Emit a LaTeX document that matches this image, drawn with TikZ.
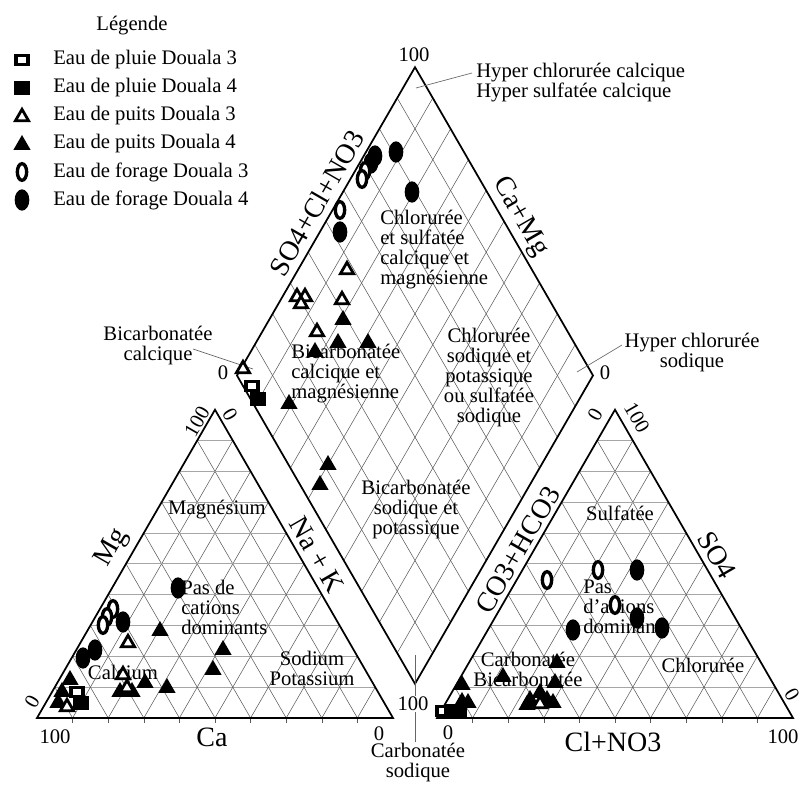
\documentclass[tikz,border=0pt]{standalone}
\usepackage{fontspec}
\setmainfont{Liberation Serif}
\usetikzlibrary{calc,shapes.geometric}
\tikzset{
 border/.style={draw=black, line width=1.3pt, line join=miter},
 hgrid/.style={draw=black!35, line width=0.55pt},
 dgrid/.style={draw=black!65, line width=0.4pt},
 lbl/.style={font=\fontsize{15.5}{15}\selectfont, inner sep=0pt},
 big/.style={font=\fontsize{21}{21}\selectfont, inner sep=0pt},
 leader/.style={draw=black!60, line width=0.5pt},
 mFS/.style={rectangle, fill=black, minimum width=11.5pt, minimum height=10pt, inner sep=0pt},
 mOS/.style={rectangle, draw=black, fill=white, line width=2.3pt, minimum width=9pt, minimum height=7pt, inner sep=0pt},
 mFT/.style={regular polygon, regular polygon sides=3, fill=black, minimum size=15pt, inner sep=0pt},
 mOT/.style={regular polygon, regular polygon sides=3, draw=black, fill=white, line width=2.1pt, minimum size=11.5pt, inner sep=0pt},
 mFE/.style={ellipse, fill=black, minimum width=11pt, minimum height=16pt, inner sep=0pt},
 mOE/.style={ellipse, draw=black, fill=white, line width=2.5pt, minimum width=7pt, minimum height=12.5pt, inner sep=0pt},
}
\begin{document}
\begin{tikzpicture}[x=0.75pt,y=-0.75pt]
\useasboundingbox (0,0) rectangle (801,791);
% corners
\coordinate (LA) at (37,718); \coordinate (LB) at (393,718); \coordinate (LC) at (215,409.7);
\coordinate (RA) at (437,718); \coordinate (RB) at (793,718); \coordinate (RC) at (615,409.7);
\coordinate (DL) at (237,375.5); \coordinate (DT) at (415,67.2); \coordinate (DR) at (593,375.5); \coordinate (DB) at (415,683.8);
% grids
\foreach \i in {1,...,9} {
  \draw[hgrid] ($(LA)!\i/10!(LC)$) -- ($(LB)!\i/10!(LC)$);
  \draw[dgrid] ($(LA)!\i/10!(LB)$) -- ($(LC)!\i/10!(LB)$);
  \draw[dgrid] ($(LB)!\i/10!(LA)$) -- ($(LC)!\i/10!(LA)$);
  \draw[dgrid] ($(LA)!\i/10!(LB)$) -- ++(0,5);
  \draw[hgrid] ($(RA)!\i/10!(RC)$) -- ($(RB)!\i/10!(RC)$);
  \draw[dgrid] ($(RA)!\i/10!(RB)$) -- ($(RC)!\i/10!(RB)$);
  \draw[dgrid] ($(RB)!\i/10!(RA)$) -- ($(RC)!\i/10!(RA)$);
  \draw[dgrid] ($(RA)!\i/10!(RB)$) -- ++(0,5);
  \draw[dgrid] ($(DL)!\i/10!(DB)$) -- ($(DT)!\i/10!(DR)$);
  \draw[dgrid] ($(DL)!\i/10!(DT)$) -- ($(DB)!\i/10!(DR)$);
}
\draw[border] (LA) -- (LB) -- (LC) -- cycle;
\draw[border] (RA) -- (RB) -- (RC) -- cycle;
\draw[border] (DL) -- (DT) -- (DR) -- (DB) -- cycle;

% leaders
\coordinate (q1a) at (416,88); \coordinate (q1b) at (472,73);
\coordinate (q2a) at (193,349); \coordinate (q2b) at (253,369);
\coordinate (q3a) at (577,372); \coordinate (q3b) at (622,345);
\coordinate (q4a) at (415,655); \coordinate (q4b) at (415,742);
\draw[leader] (q1a) -- (q1b);
\draw[leader] (q2a) -- (q2b);
\draw[leader] (q3a) -- (q3b);
\draw[leader] (q4a) -- (q4b);

% legend
\node[lbl] (leg) at (132,26) {Légende};
\node[mOS] (l1) at (22,60) {};  \node[lbl,anchor=west] (lt1) at (53,60) {Eau de pluie Douala 3};
\node[mFS] (l2) at (22,88) {};  \node[lbl,anchor=west] (lt2) at (53,88) {Eau de pluie Douala 4};
\node[mOT] (l3) at (22,117) {}; \node[lbl,anchor=west] (lt3) at (53,116) {Eau de puits Douala 3};
\node[mFT] (l4) at (22,145) {}; \node[lbl,anchor=west] (lt4) at (53,144) {Eau de puits Douala 4};
\node[mOE] (l5) at (22,172) {}; \node[lbl,anchor=west] (lt5) at (53,172) {Eau de forage Douala 3};
\node[mFE] (l6) at (22,200) {}; \node[lbl,anchor=west] (lt6) at (53,200) {Eau de forage Douala 4};

% diamond labels
\node[lbl] (n100t) at (414,55) {100};
\node[lbl,anchor=west,align=left] (hcc) at (476,83) {Hyper chlorurée calcique\\Hyper sulfatée calcique};
\node[big,rotate=60] (so4cl) at (317,203) {SO4+Cl+NO3};
\node[big,rotate=-60] (camg) at (520,217) {Ca+Mg};
\node[lbl,anchor=west,align=left] (z1) at (380,250) {Chlorurée\\et sulfatée\\calcique et\\magnésienne};
\node[lbl,align=center] (bcc) at (158,346) {Bicarbonatée\\calcique};
\node[lbl] (n0l) at (223,373) {0};
\node[lbl,anchor=west,align=left] (z2) at (291,374) {Bicarbonatée\\calcique et\\magnésienne};
\node[lbl,align=center] (z3) at (489,378) {Chlorurée\\sodique et\\potassique\\ou sulfatée\\sodique};
\node[lbl,align=center] (hcs) at (692,353) {Hyper chlorurée\\sodique};
\node[lbl] (n0r) at (605,373) {0};
\node[lbl,align=center] (z4) at (416,510) {Bicarbonatée\\sodique et\\potassique};
\node[lbl,fill=white,inner sep=1pt] (n100b) at (413,704) {100};
\node[lbl,align=center] (cs) at (418,763) {Carbonatée\\sodique};

% left triangle labels
\node[lbl,rotate=60] (a1) at (197,422) {100};
\node[lbl,rotate=-60] (a2) at (230,415) {0};
\node[lbl] (mgn) at (217,510) {Magnésium};
\node[big,rotate=60] (mg) at (112,548) {Mg};
\node[big,rotate=-60] (nak) at (317,555) {Na + K};
\node[lbl,anchor=west,align=left] (pdc) at (181,607) {Pas de\\cations\\dominants};
\node[lbl] (calc) at (123,672) {Calcium};
\node[lbl,align=center] (sodp) at (312,668) {Sodium\\Potassium};
\node[lbl,rotate=60] (a3) at (32,702) {0};
\node[lbl] (a4) at (55,737) {100};
\node[big] (ca) at (212,737) {Ca};
\node[lbl] (a5) at (379,734) {0};

% right triangle labels
\node[lbl,rotate=60] (b1) at (595,415) {0};
\node[lbl,rotate=-60] (b2) at (637,418) {100};
\node[big,rotate=60] (co3) at (518,550) {CO3+HCO3};
\node[lbl] (sulf) at (620,513) {Sulfatée};
\node[big,rotate=-60] (so4) at (717,555) {SO4};
\node[lbl,anchor=west,align=left] (pda) at (583,607) {Pas\\d'anions\\dominants};
\node[lbl,align=center] (cb) at (528,669) {Carbonatée\\Bicarbonatée};
\node[lbl] (chl) at (703,665) {Chlorurée};
\node[lbl,rotate=-60] (b3) at (792,695) {0};
\node[lbl] (b4) at (448,733) {0};
\node[big] (clno3) at (613,742) {Cl+NO3};
\node[lbl] (b5) at (783,737) {100};

% data: left triangle
\foreach \x/\y [count=\k] in {178/588,123/622,95/650,83/658} \node[mFE] (lfe\k) at (\x,\y) {};
\foreach \x/\y [count=\k] in {113/609,107/617,103/625} \node[mOE] (loe\k) at (\x,\y) {};
\foreach \x/\y [count=\k] in {160/631,223/650,213/670,120/692,132/692,145/683,167/688,70/680,62/692,58/703} \node[mFT] (lft\k) at (\x,\y) {};
\foreach \x/\y [count=\k] in {128/643,123/675,127/688,67/707} \node[mOT] (lot\k) at (\x,\y) {};
\node[mOS] (los1) at (77,692) {};
\node[mFS] (lfs1) at (81,703) {};

% data: diamond
\foreach \x/\y [count=\k] in {375/156,371/163,396/152,412/192,340/232} \node[mFE] (dfe\k) at (\x,\y) {};
\foreach \x/\y [count=\k] in {365/171,362/179,340/210} \node[mOE] (doe\k) at (\x,\y) {};
\foreach \x/\y [count=\k] in {347/270,297/297,305/297,301/304,342/300,317/332,243/369} \node[mOT] (dot\k) at (\x,\y) {};
\foreach \x/\y [count=\k] in {343/320,315/352,338/343,368/343,289/404,328/465,320/485} \node[mFT] (dft\k) at (\x,\y) {};
\node[mOS] (dos1) at (252,386) {};
\node[mFS] (dfs1) at (258,399) {};

% data: right triangle
\foreach \x/\y [count=\k] in {547/580,598/570,615/605} \node[mOE] (roe\k) at (\x,\y) {};
\foreach \x/\y [count=\k] in {637/570,637/618,662/628,573/630} \node[mFE] (rfe\k) at (\x,\y) {};
\foreach \x/\y [count=\k] in {557/663,555/683,503/677,462/685,462/702,468/703,527/705,530/700,540/693,547/700,553/703} \node[mFT] (rft\k) at (\x,\y) {};
\node[mOT] (rot1) at (540,704) {};
\node[mOS] (ros1) at (443,711) {};
\node[mFS] (rfs1) at (452,711) {};
\node[mFS] (rfs2) at (459,712) {};
\end{tikzpicture}
\end{document}
